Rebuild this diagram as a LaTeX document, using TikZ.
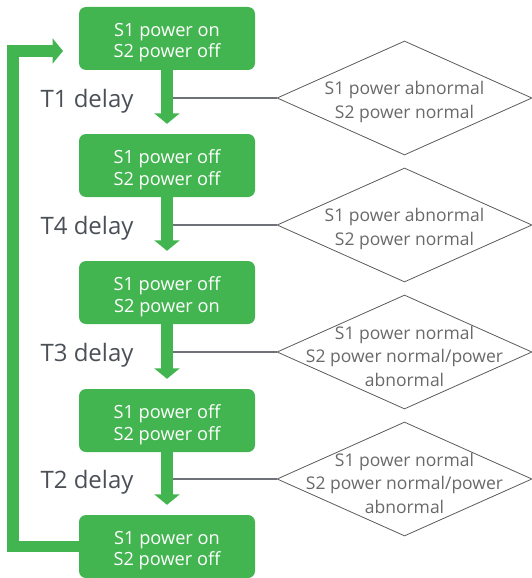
\documentclass[tikz,border=0pt]{standalone}
\usepackage{fontspec}
\setmainfont{Open Sans}
\usetikzlibrary{shapes.geometric,arrows.meta}
\definecolor{stategreen}{RGB}{67,181,80}
\definecolor{delaygray}{RGB}{75,80,87}
\definecolor{condgray}{RGB}{90,90,90}
\definecolor{condtextgray}{RGB}{105,105,105}
\definecolor{linkgray}{RGB}{110,114,120}
\begin{document}
\begin{tikzpicture}[x=1pt,y=-1pt,
    state/.style={fill=stategreen,rounded corners=7pt,minimum width=176pt,
      minimum height=63pt,inner sep=0pt},
    statetext/.style={text=white,align=center,yshift=-4pt,
      font=\fontsize{18.2}{21.5}\selectfont},
    cond/.style={diamond,draw=condgray,line width=0.8pt,minimum width=255pt,
      minimum height=114pt,inner sep=0pt},
    condtext/.style={text=condtextgray,align=center,yshift=-4pt,
      font=\fontsize{17.5}{23.5}\selectfont},
    delay/.style={text=delaygray,anchor=base east,
      font=\fontsize{24}{28}\selectfont},
    flow/.style={stategreen,line width=11.5pt,line join=miter,
      -{Triangle[length=10.5pt,width=25pt]}},
    link/.style={linkgray,line width=1.2pt}]
  \useasboundingbox (0,0) rectangle (532,578);
  \draw
    (167,38.5) node[state] (b1){}
    (167,165.5) node[state] (b2){}
    (167,292.5) node[state] (b3){}
    (167,420.5) node[state] (b4){}
    (167,546.5) node[state] (b5){};
  \draw
    (b1) node[statetext] (s1){S1 power on\\S2 power off}
    (b2) node[statetext] (s2){S1 power off\\S2 power off}
    (b3) node[statetext] (s3){S1 power off\\S2 power on}
    (b4) node[statetext] (s4){S1 power off\\S2 power off}
    (b5) node[statetext] (s5){S1 power on\\S2 power off};
  \draw
    (404.5,98) node[cond] (d1){}
    (404.5,225) node[cond] (d2){}
    (404.5,352) node[cond] (d3){}
    (404.5,479) node[cond] (d4){};
  \draw
    (d1) node[condtext] (c1){S1 power abnormal\\S2 power normal}
    (d2) node[condtext] (c2){S1 power abnormal\\S2 power normal}
    (d3) node[condtext] (c3){S1 power normal\\S2 power normal/power\\abnormal}
    (d4) node[condtext] (c4){S1 power normal\\S2 power normal/power\\abnormal};
  \draw
    (137,107) node[delay] (l1){T1 delay}
    (137,234) node[delay] (l2){T4 delay}
    (137,361) node[delay] (l3){T3 delay}
    (137,488) node[delay] (l4){T2 delay};
  \coordinate (rail) at (13,51);
  \coordinate (loopin) at (79,51);
  \begin{scope}[flow,shorten >=10pt]
    \draw (b1) to (b2);
    \draw (b2) to (b3);
    \draw (b3) to (b4);
    \draw (b4) to (b5);
  \end{scope}
  \draw[flow,shorten >=16pt] (b5.west) -| (rail) -- (loopin);
  \begin{scope}[link,shorten >=5.75pt]
    \draw (d1.west) to (d1.west -| b1.south);
    \draw (d2.west) to (d2.west -| b2.south);
    \draw (d3.west) to (d3.west -| b3.south);
    \draw (d4.west) to (d4.west -| b4.south);
  \end{scope}
\end{tikzpicture}
\end{document}
